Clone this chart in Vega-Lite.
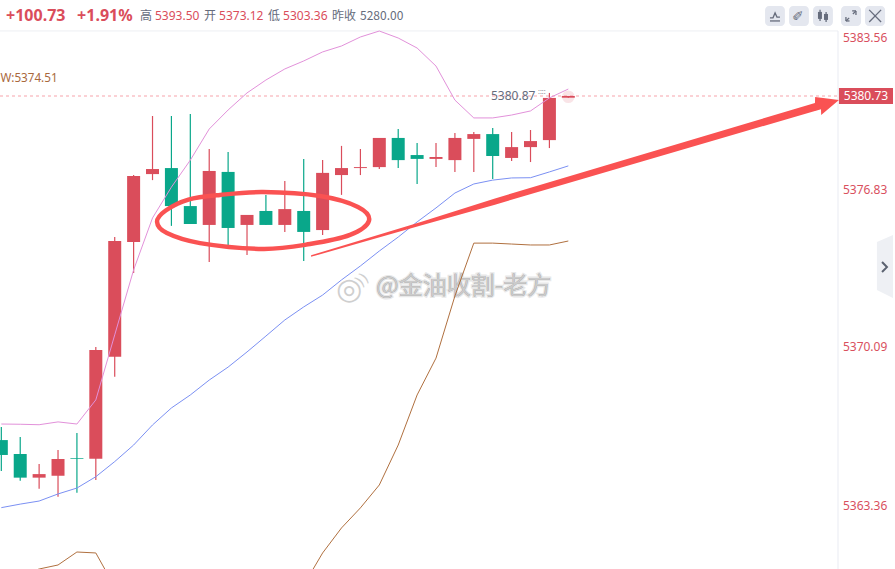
{
  "$schema": "https://vega.github.io/schema/vega-lite/v6.json",
  "width": 838,
  "height": 569,
  "padding": {"left": 0, "top": 0, "right": 57, "bottom": 0},
  "autosize": {"type": "none"},
  "background": "white",
  "config": {"view": {"stroke": null}, "font": "Noto Sans CJK SC"},
  "resolve": {"scale": {"color": "independent"}},
  "datasets": {
    "candles": [
      {"i": 0, "open": 5366.15, "close": 5365.52, "high": 5366.70, "low": 5364.84, "dir": "down"},
      {"i": 1, "open": 5365.56, "close": 5364.56, "high": 5366.28, "low": 5364.43, "dir": "down"},
      {"i": 2, "open": 5364.56, "close": 5364.71, "high": 5365.14, "low": 5364.09, "dir": "up"},
      {"i": 3, "open": 5364.64, "close": 5365.35, "high": 5365.73, "low": 5363.75, "dir": "up"},
      {"i": 4, "open": 5365.39, "close": 5365.36, "high": 5366.45, "low": 5363.92, "dir": "down"},
      {"i": 5, "open": 5365.36, "close": 5369.96, "high": 5370.09, "low": 5364.46, "dir": "up"},
      {"i": 6, "open": 5369.68, "close": 5374.64, "high": 5374.81, "low": 5368.83, "dir": "up"},
      {"i": 7, "open": 5374.60, "close": 5377.41, "high": 5377.45, "low": 5373.27, "dir": "up"},
      {"i": 8, "open": 5377.49, "close": 5377.70, "high": 5379.90, "low": 5377.24, "dir": "up"},
      {"i": 9, "open": 5377.74, "close": 5376.14, "high": 5379.90, "low": 5375.29, "dir": "down"},
      {"i": 10, "open": 5376.14, "close": 5375.37, "high": 5379.98, "low": 5375.37, "dir": "down"},
      {"i": 11, "open": 5375.33, "close": 5377.62, "high": 5378.53, "low": 5373.74, "dir": "up"},
      {"i": 12, "open": 5377.58, "close": 5375.20, "high": 5378.41, "low": 5374.43, "dir": "down"},
      {"i": 13, "open": 5375.33, "close": 5375.76, "high": 5375.76, "low": 5374.04, "dir": "up"},
      {"i": 14, "open": 5375.93, "close": 5375.33, "high": 5376.62, "low": 5375.33, "dir": "down"},
      {"i": 15, "open": 5375.33, "close": 5376.01, "high": 5377.20, "low": 5375.03, "dir": "up"},
      {"i": 16, "open": 5375.93, "close": 5375.03, "high": 5378.12, "low": 5373.78, "dir": "down"},
      {"i": 17, "open": 5375.11, "close": 5377.54, "high": 5378.07, "low": 5374.90, "dir": "up"},
      {"i": 18, "open": 5377.45, "close": 5377.74, "high": 5378.66, "low": 5376.62, "dir": "up"},
      {"i": 19, "open": 5377.74, "close": 5377.78, "high": 5378.53, "low": 5377.45, "dir": "up"},
      {"i": 20, "open": 5377.78, "close": 5378.99, "high": 5378.99, "low": 5377.70, "dir": "up"},
      {"i": 21, "open": 5378.99, "close": 5378.07, "high": 5379.36, "low": 5377.74, "dir": "down"},
      {"i": 22, "open": 5378.28, "close": 5378.12, "high": 5378.78, "low": 5377.08, "dir": "down"},
      {"i": 23, "open": 5378.12, "close": 5378.20, "high": 5378.78, "low": 5377.78, "dir": "up"},
      {"i": 24, "open": 5378.07, "close": 5378.99, "high": 5379.20, "low": 5377.58, "dir": "up"},
      {"i": 25, "open": 5378.95, "close": 5379.15, "high": 5379.24, "low": 5377.58, "dir": "up"},
      {"i": 26, "open": 5379.15, "close": 5378.24, "high": 5379.40, "low": 5377.29, "dir": "down"},
      {"i": 27, "open": 5378.16, "close": 5378.61, "high": 5379.24, "low": 5378.03, "dir": "up"},
      {"i": 28, "open": 5378.61, "close": 5378.86, "high": 5379.32, "low": 5377.99, "dir": "up"},
      {"i": 29, "open": 5378.90, "close": 5380.65, "high": 5380.88, "low": 5378.57, "dir": "up"},
      {"i": 30, "open": 5380.66, "close": 5380.73, "high": 5380.73, "low": 5380.66, "dir": "up"}
    ],
    "bands": [
      {"i": 0, "upper": 5366.83, "mid": 5363.29, "lower": 5360.22},
      {"i": 1, "upper": 5366.82, "mid": 5363.44, "lower": 5360.44},
      {"i": 2, "upper": 5366.80, "mid": 5363.57, "lower": 5360.69},
      {"i": 3, "upper": 5366.92, "mid": 5363.87, "lower": 5360.86},
      {"i": 4, "upper": 5366.83, "mid": 5364.12, "lower": 5361.41},
      {"i": 5, "upper": 5367.85, "mid": 5364.60, "lower": 5361.37},
      {"i": 6, "upper": 5370.61, "mid": 5365.24, "lower": 5359.93},
      {"i": 7, "upper": 5373.40, "mid": 5365.94, "lower": 5358.80},
      {"i": 8, "upper": 5375.63, "mid": 5366.79, "lower": 5358.20},
      {"i": 9, "upper": 5376.95, "mid": 5367.51, "lower": 5357.90},
      {"i": 10, "upper": 5378.07, "mid": 5368.06, "lower": 5357.70},
      {"i": 11, "upper": 5379.36, "mid": 5368.69, "lower": 5357.60},
      {"i": 12, "upper": 5380.15, "mid": 5369.24, "lower": 5357.70},
      {"i": 13, "upper": 5380.88, "mid": 5369.88, "lower": 5358.00},
      {"i": 14, "upper": 5381.51, "mid": 5370.56, "lower": 5358.60},
      {"i": 15, "upper": 5382.05, "mid": 5371.25, "lower": 5359.30},
      {"i": 16, "upper": 5382.44, "mid": 5371.81, "lower": 5360.01},
      {"i": 17, "upper": 5382.88, "mid": 5372.32, "lower": 5361.37},
      {"i": 18, "upper": 5383.17, "mid": 5372.97, "lower": 5362.43},
      {"i": 19, "upper": 5383.61, "mid": 5373.57, "lower": 5363.28},
      {"i": 20, "upper": 5383.90, "mid": 5374.21, "lower": 5364.25},
      {"i": 21, "upper": 5383.56, "mid": 5374.81, "lower": 5365.94},
      {"i": 22, "upper": 5383.07, "mid": 5375.46, "lower": 5368.06},
      {"i": 23, "upper": 5382.19, "mid": 5376.06, "lower": 5369.62},
      {"i": 24, "upper": 5380.56, "mid": 5376.70, "lower": 5372.28},
      {"i": 25, "upper": 5379.82, "mid": 5377.08, "lower": 5374.55},
      {"i": 26, "upper": 5379.82, "mid": 5377.24, "lower": 5374.55},
      {"i": 27, "upper": 5379.94, "mid": 5377.33, "lower": 5374.51},
      {"i": 28, "upper": 5380.11, "mid": 5377.34, "lower": 5374.47},
      {"i": 29, "upper": 5380.65, "mid": 5377.58, "lower": 5374.47},
      {"i": 30, "upper": 5381.07, "mid": 5377.83, "lower": 5374.64}
    ],
    "ellipse": [
      {"n": 0, "i": 8.24, "price": 5375.46},
      {"n": 1, "i": 8.7, "price": 5375.95},
      {"n": 2, "i": 9.9, "price": 5376.42},
      {"n": 3, "i": 11.57, "price": 5376.62},
      {"n": 4, "i": 13.85, "price": 5376.74},
      {"n": 5, "i": 16.86, "price": 5376.57},
      {"n": 6, "i": 18.87, "price": 5376.10},
      {"n": 7, "i": 19.45, "price": 5375.50},
      {"n": 8, "i": 18.45, "price": 5374.90},
      {"n": 9, "i": 16.33, "price": 5374.51},
      {"n": 10, "i": 13.85, "price": 5374.30},
      {"n": 11, "i": 10.51, "price": 5374.55},
      {"n": 12, "i": 8.76, "price": 5374.98}
    ],
    "arrow": [
      {"i": 16.39, "price": 5374.03, "price2": 5373.96},
      {"i": 22.15, "price": 5375.45, "price2": 5375.29},
      {"i": 26.12, "price": 5376.47, "price2": 5376.20},
      {"i": 43.05, "price": 5380.44, "price2": 5380.11},
      {"i": 43.06, "price": 5380.69, "price2": 5380.11},
      {"i": 43.37, "price": 5380.66, "price2": 5380.18},
      {"i": 43.38, "price": 5380.66, "price2": 5379.94},
      {"i": 44.32, "price": 5380.56, "price2": 5380.56}
    ],
    "buttons": [
      {"i": 40.41, "i2": 41.46, "price": 5385.12, "price2": 5384.15},
      {"i": 41.68, "i2": 42.73, "price": 5385.12, "price2": 5384.15},
      {"i": 42.95, "i2": 44.00, "price": 5385.12, "price2": 5384.15},
      {"i": 44.43, "i2": 45.49, "price": 5385.12, "price2": 5384.15},
      {"i": 45.70, "i2": 46.76, "price": 5385.12, "price2": 5384.15}
    ],
    "iconLines": [
      {"g": "a", "n": 0, "i": 40.67, "price": 5384.54},
      {"g": "a", "n": 1, "i": 40.83, "price": 5384.54},
      {"g": "a", "n": 2, "i": 40.94, "price": 5384.78},
      {"g": "a", "n": 3, "i": 41.04, "price": 5384.58},
      {"g": "a", "n": 4, "i": 41.20, "price": 5384.58},
      {"g": "b", "n": 0, "i": 40.67, "price": 5384.39},
      {"g": "b", "n": 1, "i": 41.20, "price": 5384.39},
      {"g": "c", "n": 0, "i": 43.32, "price": 5384.93},
      {"g": "c", "n": 1, "i": 43.32, "price": 5384.39},
      {"g": "d", "n": 0, "i": 43.64, "price": 5384.83},
      {"g": "d", "n": 1, "i": 43.64, "price": 5384.34},
      {"g": "x1", "n": 0, "i": 45.92, "price": 5384.93},
      {"g": "x1", "n": 1, "i": 46.55, "price": 5384.34},
      {"g": "x2", "n": 0, "i": 46.55, "price": 5384.93},
      {"g": "x2", "n": 1, "i": 45.92, "price": 5384.34},
      {"g": "e1", "n": 0, "i": 44.69, "price": 5384.39},
      {"g": "e1", "n": 1, "i": 44.86, "price": 5384.54},
      {"g": "e2", "n": 0, "i": 45.06, "price": 5384.73},
      {"g": "e2", "n": 1, "i": 45.22, "price": 5384.88},
      {"g": "e3", "n": 0, "i": 44.69, "price": 5384.39},
      {"g": "e3", "n": 1, "i": 44.69, "price": 5384.58},
      {"g": "e4", "n": 0, "i": 44.69, "price": 5384.39},
      {"g": "e4", "n": 1, "i": 44.88, "price": 5384.39},
      {"g": "e5", "n": 0, "i": 45.22, "price": 5384.88},
      {"g": "e5", "n": 1, "i": 45.22, "price": 5384.68},
      {"g": "e6", "n": 0, "i": 45.22, "price": 5384.88},
      {"g": "e6", "n": 1, "i": 45.02, "price": 5384.88}
    ],
    "iconBodies": [
      {"i": 43.21, "i2": 43.42, "price": 5384.83, "price2": 5384.49},
      {"i": 43.53, "i2": 43.74, "price": 5384.73, "price2": 5384.44}
    ]
  },
  "encoding": {
    "x": {
      "field": "i",
      "type": "quantitative",
      "axis": null,
      "scale": {"domain": [-0.07, 44.27], "nice": false, "zero": false, "padding": 0}
    },
    "y": {
      "field": "price",
      "type": "quantitative",
      "axis": null,
      "scale": {
        "domain": [5385.41, 5383.56, 5380.73, 5376.83, 5370.09, 5363.36, 5360.69],
        "range": [0, 38, 96, 190, 347, 506, 569],
        "nice": false,
        "zero": false,
        "padding": 0
      }
    }
  },
  "layer": [
    {
      "data": {"values": [{"i": -0.07, "i2": 44.27, "price": 5383.95, "price2": 5383.87}]},
      "mark": {"type": "rect", "color": "#f5f6f8"},
      "encoding": {"x2": {"field": "i2"}, "y2": {"field": "price2"}}
    },
    {
      "data": {"values": [{"i": 44.27, "price": 5383.9, "price2": 5360.69}]},
      "mark": {"type": "rule", "color": "#e9ebf2", "strokeWidth": 1},
      "encoding": {"y2": {"field": "price2"}}
    },
    {
      "data": {"values": [{"i": -0.07, "i2": 44.27, "price": 5380.73}]},
      "mark": {"type": "rule", "color": "#f7a3ab", "strokeWidth": 1, "strokeDash": [3, 3]},
      "encoding": {"x2": {"field": "i2"}}
    },
    {
      "data": {"values": [
        {"i": 44.53, "price": 5383.56},
        {"i": 44.53, "price": 5376.83},
        {"i": 44.53, "price": 5370.09},
        {"i": 44.53, "price": 5363.36}
      ]},
      "mark": {"type": "text", "align": "left", "baseline": "middle", "fontSize": 12, "font": "Noto Sans", "color": "#d9505e"},
      "encoding": {"text": {"field": "price", "type": "quantitative", "format": ".2f"}}
    },
    {
      "data": {"values": [
        {"i": 46.33, "price": 5374.60, "price2": 5372.54},
        {"i": 47.18, "price": 5374.90, "price2": 5372.19}
      ]},
      "mark": {"type": "area", "color": "#eef0f4"},
      "encoding": {"y2": {"field": "price2"}}
    },
    {
      "data": {"values": [
        {"n": 0, "i": 46.60, "price": 5373.74},
        {"n": 1, "i": 46.86, "price": 5373.52},
        {"n": 2, "i": 46.60, "price": 5373.31}
      ]},
      "mark": {"type": "line", "color": "#5b6270", "strokeWidth": 2},
      "encoding": {"order": {"field": "n"}}
    },
    {
      "data": {"values": [{"label": "@金油收割-老方", "i": 19.83, "price": 5372.67}]},
      "mark": {"type": "text", "align": "left", "baseline": "middle", "fontSize": 24, "stroke": "#d9d9d9", "strokeWidth": 3, "strokeOpacity": 0.6},
      "encoding": {"text": {"field": "label"}}
    },
    {
      "data": {"values": [{"label": "@金油收割-老方", "i": 19.83, "price": 5372.67}]},
      "mark": {"type": "text", "align": "left", "baseline": "middle", "fontSize": 24, "color": "#cbcbcb"},
      "encoding": {"text": {"field": "label"}}
    },
    {
      "data": {"values": [{"label": "◎", "i": 18.4, "price": 5372.54}]},
      "mark": {"type": "text", "align": "center", "baseline": "middle", "fontSize": 30, "font": "DejaVu Sans", "color": "#cfcfcf"},
      "encoding": {"text": {"field": "label"}}
    },
    {
      "data": {"values": [{"label": "))", "i": 19.08, "price": 5372.98}]},
      "mark": {"type": "text", "align": "center", "baseline": "middle", "fontSize": 15, "angle": -45, "font": "DejaVu Sans", "color": "#cfcfcf"},
      "encoding": {"text": {"field": "label"}}
    },
    {
      "data": {"name": "candles"},
      "mark": {"type": "rule", "strokeWidth": 1.2},
      "encoding": {
        "y": {
          "field": "high",
          "type": "quantitative",
          "axis": null,
          "scale": {"domain": [5385.41, 5383.56, 5380.73, 5376.83, 5370.09, 5363.36, 5360.69], "range": [0, 38, 96, 190, 347, 506, 569], "nice": false, "zero": false, "padding": 0}
        },
        "y2": {"field": "low"},
        "color": {"field": "dir", "type": "nominal", "legend": null, "scale": {"domain": ["up", "down"], "range": ["#da4d5b", "#09a78a"]}}
      }
    },
    {
      "data": {"name": "candles"},
      "mark": {"type": "bar", "width": 13},
      "encoding": {
        "y": {
          "field": "open",
          "type": "quantitative",
          "axis": null,
          "scale": {"domain": [5385.41, 5383.56, 5380.73, 5376.83, 5370.09, 5363.36, 5360.69], "range": [0, 38, 96, 190, 347, 506, 569], "nice": false, "zero": false, "padding": 0}
        },
        "y2": {"field": "close"},
        "color": {"field": "dir", "type": "nominal", "legend": null, "scale": {"domain": ["up", "down"], "range": ["#da4d5b", "#09a78a"]}}
      }
    },
    {
      "data": {"values": [{"i": 30, "price": 5380.7}]},
      "mark": {"type": "point", "filled": true, "size": 160, "color": "#da4d5b", "opacity": 0.15}
    },
    {
      "data": {"name": "bands"},
      "transform": [{"fold": ["upper", "mid", "lower"], "as": ["band", "price"]}],
      "mark": {"type": "line", "strokeWidth": 1, "clip": true},
      "encoding": {
        "color": {"field": "band", "type": "nominal", "legend": null, "scale": {"domain": ["upper", "mid", "lower"], "range": ["#e291da", "#7b90f3", "#b0703f"]}}
      }
    },
    {
      "data": {"values": [{"i": 44.32, "i2": 47.18, "price": 5381.12, "price2": 5380.40}]},
      "mark": {"type": "rect", "color": "#da4d5b"},
      "encoding": {"x2": {"field": "i2"}, "y2": {"field": "price2"}}
    },
    {
      "data": {"values": [{"label": "5380.73", "i": 45.75, "price": 5380.73}]},
      "mark": {"type": "text", "align": "center", "baseline": "middle", "fontSize": 12, "font": "Noto Sans", "color": "white"},
      "encoding": {"text": {"field": "label"}}
    },
    {
      "data": {"name": "ellipse"},
      "mark": {"type": "line", "interpolate": "cardinal-closed", "color": "#fa5252", "strokeWidth": 4.5},
      "encoding": {"order": {"field": "n"}}
    },
    {
      "data": {"name": "arrow"},
      "mark": {"type": "area", "color": "#fa5252"},
      "encoding": {"y2": {"field": "price2"}}
    },
    {
      "data": {"name": "buttons"},
      "mark": {"type": "rect", "color": "#e4e7ef", "cornerRadius": 4},
      "encoding": {"x2": {"field": "i2"}, "y2": {"field": "price2"}}
    },
    {
      "data": {"name": "iconBodies"},
      "mark": {"type": "rect", "color": "#666c7c"},
      "encoding": {"x2": {"field": "i2"}, "y2": {"field": "price2"}}
    },
    {
      "data": {"name": "iconLines"},
      "mark": {"type": "line", "color": "#666c7c", "strokeWidth": 1.3},
      "encoding": {"detail": {"field": "g"}, "order": {"field": "n"}}
    },
    {
      "data": {"values": [{"label": "✏", "i": 42.2, "price": 5384.63}]},
      "mark": {"type": "text", "align": "center", "baseline": "middle", "fontSize": 14, "angle": -45, "font": "DejaVu Sans", "color": "#666c7c"},
      "encoding": {"text": {"field": "label"}}
    },
    {
      "data": {"values": [
        {"label": "+100.73", "i": 0.25, "price": 5384.63},
        {"label": "+1.91%", "i": 4.01, "price": 5384.63}
      ]},
      "mark": {"type": "text", "align": "left", "baseline": "middle", "fontSize": 16, "fontWeight": "bold", "font": "Noto Sans", "color": "#da4d5b"},
      "encoding": {"text": {"field": "label"}}
    },
    {
      "data": {"values": [
        {"label": "5393.50", "i": 8.13, "price": 5384.63},
        {"label": "5373.12", "i": 11.52, "price": 5384.63},
        {"label": "5303.36", "i": 14.91, "price": 5384.63}
      ]},
      "mark": {"type": "text", "align": "left", "baseline": "middle", "fontSize": 12, "font": "Noto Sans", "color": "#da4d5b"},
      "encoding": {"text": {"field": "label"}}
    },
    {
      "data": {"values": [
        {"label": "高", "i": 7.34, "price": 5384.63},
        {"label": "开", "i": 10.72, "price": 5384.63},
        {"label": "低", "i": 14.11, "price": 5384.63},
        {"label": "昨收", "i": 17.5, "price": 5384.63},
        {"label": "5280.00", "i": 18.98, "price": 5384.63}
      ]},
      "mark": {"type": "text", "align": "left", "baseline": "middle", "fontSize": 12, "color": "#666c7c"},
      "encoding": {"text": {"field": "label"}}
    },
    {
      "data": {"values": [{"label": "W:5374.51", "i": -0.05, "price": 5381.61}]},
      "mark": {"type": "text", "align": "left", "baseline": "middle", "fontSize": 11.7, "font": "Noto Sans", "color": "#a9683c"},
      "encoding": {"text": {"field": "label"}}
    },
    {
      "data": {"values": [{"label": "5380.87", "i": 25.91, "price": 5380.73}]},
      "mark": {"type": "text", "align": "left", "baseline": "middle", "fontSize": 12, "font": "Noto Sans", "color": "#666c7c"},
      "encoding": {"text": {"field": "label"}}
    },
    {
      "data": {"values": [{"label": "::::", "i": 28.4, "price": 5380.93}]},
      "mark": {"type": "text", "align": "left", "baseline": "middle", "fontSize": 7, "font": "Noto Sans", "color": "#888c98"},
      "encoding": {"text": {"field": "label"}}
    }
  ]
}
